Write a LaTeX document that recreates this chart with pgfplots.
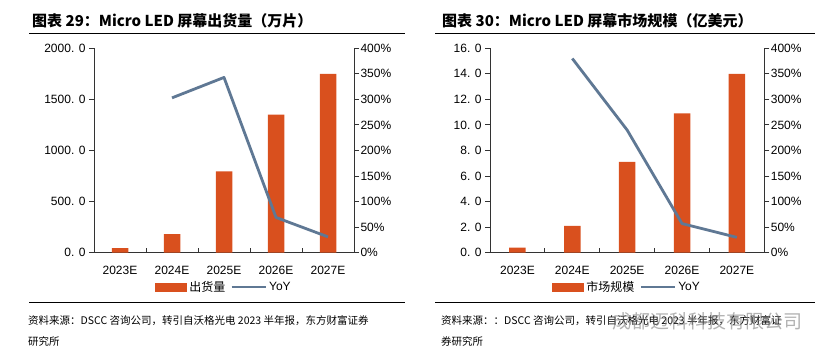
\documentclass[border=0pt]{standalone}
\usepackage{pgfplots}
\pgfplotsset{compat=1.18}
\usepackage{fontspec}
\setmainfont{Liberation Sans}
\newfontfamily\cjk{Noto Sans CJK SC}
\definecolor{barc}{HTML}{D9501E}
\definecolor{linec}{HTML}{5F7894}
\definecolor{axc}{HTML}{333333}
\pgfplotsset{
  basebox/.style={scale only axis, height=204.4pt, xmin=-0.5, xmax=4.5, ymin=0,
    axis line style={axc, line width=0.9pt}, tick style={axc, line width=0.9pt},
    tick align=outside, major tick length=5pt, minor tick length=5pt,
    ticklabel style={font=\fontsize{12}{12}\selectfont, text=black},
    /pgf/number format/assume math mode=true,
    clip=false},
  leftbox/.style={basebox, axis x line*=bottom, axis y line*=left,
    xtick={0,1,2,3,4}, xticklabels={2023E,2024E,2025E,2026E,2027E},
    major x tick style={draw=none},
    minor xtick={-0.5,0.5,1.5,2.5,3.5,4.5}, minor x tick style={yshift=5pt},
    xticklabel style={yshift=-5pt},
    legend style={at={(0.5,-0.168)}, anchor=center, draw=none, fill=none,
      legend columns=2, font=\fontsize{12}{12}\selectfont,
      /tikz/every even column/.append style={column sep=3pt}},
  },
  rightbox/.style={basebox, axis x line=none, axis y line*=right, ymax=400,
    ytick={0,50,...,400}, yticklabel={\pgfmathprintnumber{\tick}\%},
    yticklabel style={xshift=-2pt}},
  barleg/.style={legend image code/.code={\fill[barc] (0pt,-4.5pt) rectangle (32pt,4.5pt);}},
  lineleg/.style={legend image code/.code={\draw[linec, line width=2.8pt] (0pt,0pt) -- (34pt,0pt);}},
}
\begin{document}
\begin{tikzpicture}
\useasboundingbox (0pt,0pt) rectangle (834pt,355pt);
% ---------------- Chart 1 ----------------
\node[anchor=base west, inner sep=0pt] at (32pt,328pt) {\cjk\bfseries\fontsize{15}{15}\selectfont 图表 29：Micro LED 屏幕出货量（万片）};
\draw[black, line width=0.8pt] (29pt,322pt) -- (405pt,322pt);
\begin{axis}[leftbox, at={(94pt,102.3pt)}, anchor=south west, width=260pt,
  ymax=2000, ytick={0,500,1000,1500,2000},
  yticklabels={0. 0,500. 0,1000. 0,1500. 0,2000. 0}]
\addplot[ybar, bar width=16.5pt, fill=barc, draw=none, barleg] coordinates {(0,45) (1,182) (2,795) (3,1352) (4,1750)};
\addlegendentry{\cjk 出货量}
\addlegendimage{lineleg}
\addlegendentry{YoY}
\end{axis}
\begin{axis}[rightbox, at={(94pt,102.3pt)}, anchor=south west, width=260pt]
\addplot[linec, line width=2.8pt, line join=round] coordinates {(1,303) (2,343) (3,69) (4,31)};
\end{axis}
\draw[black, line width=0.8pt] (29pt,53pt) -- (405pt,53pt);
\node[anchor=base west, inner sep=0pt] at (28pt,30pt) {\cjk\fontsize{10.5}{10.5}\selectfont 资料来源：DSCC 咨询公司，转引自沃格光电 2023 半年报，东方财富证券};
\node[anchor=base west, inner sep=0pt] at (28pt,9pt) {\cjk\fontsize{10.5}{10.5}\selectfont 研究所};
% ---------------- Chart 2 ----------------
\node[anchor=base west, inner sep=0pt] at (442pt,328pt) {\cjk\bfseries\fontsize{15}{15}\selectfont 图表 30：Micro LED 屏幕市场规模（亿美元）};
\draw[black, line width=0.8pt] (435pt,322pt) -- (815pt,322pt);
\begin{axis}[leftbox, at={(490pt,102.3pt)}, anchor=south west, width=274.3pt,
  ymax=16, ytick={0,2,...,16},
  yticklabels={0. 0,2. 0,4. 0,6. 0,8. 0,10. 0,12. 0,14. 0,16. 0}]
\addplot[ybar, bar width=16.5pt, fill=barc, draw=none, barleg] coordinates {(0,0.4) (1,2.1) (2,7.1) (3,10.9) (4,14.0)};
\addlegendentry{\cjk 市场规模}
\addlegendimage{lineleg}
\addlegendentry{YoY}
\end{axis}
\begin{axis}[rightbox, at={(490pt,102.3pt)}, anchor=south west, width=274.3pt]
\addplot[linec, line width=2.8pt, line join=round] coordinates {(1,380) (2,240) (3,57) (4,30)};
\end{axis}
\draw[black, line width=0.8pt] (435pt,53pt) -- (815pt,53pt);
\node[anchor=base west, inner sep=0pt] at (441pt,30pt) {\cjk\fontsize{10.5}{10.5}\selectfont 资料来源：：DSCC 咨询公司，转引自沃格光电 2023 半年报，东方财富证};
\node[anchor=base west, inner sep=0pt] at (441pt,9pt) {\cjk\fontsize{10.5}{10.5}\selectfont 券研究所};
\node[anchor=base west, inner sep=0pt, text=gray, opacity=0.6] at (612pt,26pt) {\cjk\fontsize{19}{19}\selectfont 成都迈科科技有限公司};
\end{tikzpicture}
\end{document}
